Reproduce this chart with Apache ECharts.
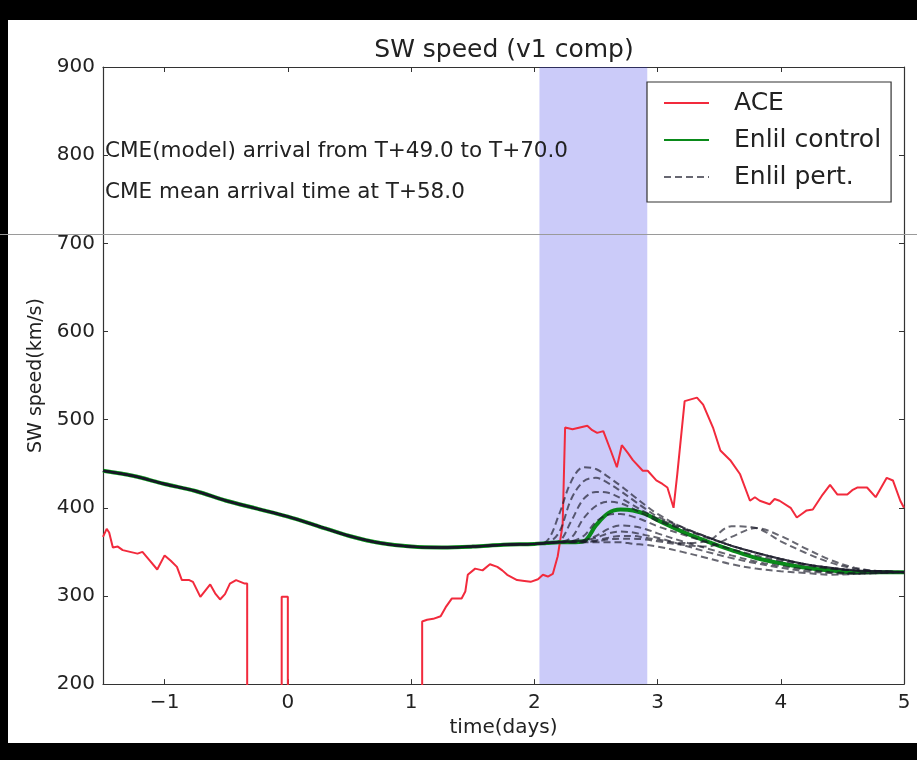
<!DOCTYPE html>
<html>
<head>
<meta charset="utf-8">
<script src="https://cdn.jsdelivr.net/npm/echarts@6/dist/echarts.min.js"></script>
<style>
  html, body { margin: 0; padding: 0; background: #000; width: 917px; height: 760px; overflow: hidden; }
  #chart { position: absolute; left: 8px; top: 20px; width: 909px; height: 723px; background: #fff; }
  #scanline { position: absolute; left: 0; top: 234px; width: 917px; height: 1px; background: #9a9a9a; z-index: 10; }
</style>
</head>
<body>
<div id="chart"></div>
<div id="scanline"></div>
<script>
// ---------------- data ----------------
const titleText = 'SW speed (v1 comp)';
const xName = 'time(days)';
const yName = 'SW speed(km/s)';
const note1 = 'CME(model) arrival from T+49.0 to T+70.0';
const note2 = 'CME mean arrival time at T+58.0';
const legendNames = ['ACE', 'Enlil control', 'Enlil pert.'];

const xTicks = [-1, 0, 1, 2, 3, 4, 5];
const yTicks = [200, 300, 400, 500, 600, 700, 800, 900];

// CME model arrival window (days): T+49h .. T+70h
const arrivalWindow = [49 / 24, 70 / 24];

// ACE observations (0 = data gap / fill value, falls below the axis)
const aceDays = [-1.5,-1.47,-1.45,-1.42,-1.38,-1.34,-1.28,-1.22,-1.18,-1.12,-1.06,-1.0,-0.95,-0.9,-0.86,-0.8,-0.77,-0.71,-0.67,-0.63,-0.59,-0.55,-0.51,-0.47,-0.42,-0.35,-0.33,
  -0.33,-0.05,-0.05,0.0,0.0,1.09,1.09,
  1.13,1.18,1.24,1.28,1.33,1.41,1.44,1.46,1.52,1.58,1.64,1.70,1.74,1.78,1.86,1.92,1.97,2.03,2.07,2.11,2.15,2.19,2.23,2.25,
  2.31,2.37,2.43,2.47,2.51,2.56,2.62,2.67,2.71,2.76,2.80,2.88,2.92,2.99,3.04,3.08,3.13,3.16,3.22,3.27,3.32,3.37,3.45,3.51,
  3.59,3.67,3.75,3.79,3.83,3.91,3.95,3.99,4.08,4.13,4.17,4.21,4.26,4.34,4.40,4.46,4.54,4.58,4.62,4.70,4.77,4.86,4.91,4.97,5.0];
const aceSpeed = [367,376,372,355,356,352,350,348,350,340,330,346,340,333,318,318,316,299,306,313,303,296,302,314,318,314,314,
  0,0,299,299,0,0,271,
  273,274,277,287,297,297,305,324,331,329,336,333,329,324,318,317,316,319,324,322,325,345,381,491,
  489,491,493,488,485,487,465,446,471,462,454,442,442,431,427,423,400,438,521,523,525,517,491,465,
  454,438,408,412,408,404,410,408,400,389,393,397,398,415,426,415,415,420,423,423,412,434,431,408,400];

// Enlil control run
const ctrlPreDays = [-1.5,-1.25,-1,-0.75,-0.5,-0.25,0,0.25,0.5,0.75,1,1.25,1.5,1.75];
const ctrlPreSpeed = [442,436,427,419,408,399,390,379,368,360,356,355,356,358];
const postDays = [2.0,2.1,2.2,2.3,2.4,2.5,2.6,2.7,2.8,2.9,3.0,3.2,3.4,3.6,3.8,4.0,4.2,4.4,4.6,4.8,5.0];
const ctrlPostSpeed = [359,360,361,361,362,380,394,398,397,393,386,373,362,352,343,337,332,329,327,327,327];

// Enlil perturbed members (after 2.0 days; before that they follow the control run)
const pert1 = [359,362,392,430,446,444,435,425,414,403,393,378,367,357,349,342,336,332,329,328,327];
const pert2 = [359,360,372,410,430,434,428,419,409,399,390,378,367,357,349,342,336,332,329,328,327];
const pert3 = [359,360,362,385,410,418,417,411,403,395,388,377,367,357,349,342,336,332,329,328,327];
const pert4 = [359,360,361,366,388,402,407,405,399,392,385,376,366,357,349,342,336,332,329,328,327];
const pert5 = [359,360,361,362,368,384,392,393,390,385,379,370,361,353,346,340,335,331,329,328,327];
const pert6 = [359,360,361,362,363,368,376,380,379,376,371,362,354,346,339,334,330,327,326,326,327];
const pert7 = [359,360,361,361,361,361,361,361,359,358,356,350,343,336,331,328,326,324,325,326,327];
const pert8 = [359,360,361,361,362,363,366,368,368,366,364,360,362,379,377,362,349,338,331,328,327];
const pert9 = [359,360,361,361,361,362,364,365,365,364,362,358,356,367,377,368,354,341,332,328,327];
const pert10 = [359,360,361,362,363,366,371,373,372,369,366,358,350,343,337,332,328,326,325,326,327];
const pertMembers = [pert1, pert2, pert3, pert4, pert5, pert6, pert7, pert8, pert9, pert10];

// ---------------- chart ----------------
const FONT = '"DejaVu Sans", "Liberation Sans", sans-serif';
const zip = (xs, ys) => xs.map((x, i) => [x, ys[i]]);
const aceData = zip(aceDays, aceSpeed);
const ctrlData = zip(ctrlPreDays.concat(postDays), ctrlPreSpeed.concat(ctrlPostSpeed));
const minusFmt = v => String(v).replace('-', '\u2212');

const pertColor = 'rgba(25,25,40,0.66)';
const pertSeries = pertMembers.map((m, i) => ({
  name: legendNames[2],
  type: 'line',
  z: 4,
  data: zip(ctrlPreDays.concat(postDays), ctrlPreSpeed.concat(m)),
  smooth: 0.35,
  showSymbol: false,
  symbol: 'none',
  lineStyle: { color: pertColor, width: 2, type: [7, 4], dashOffset: i * 1.1 },
  itemStyle: { color: pertColor },
  emphasis: { disabled: true }
}));

const axisCommon = {
  type: 'value',
  axisLine: { show: true, onZero: false, lineStyle: { color: '#333', width: 1.2 } },
  axisTick: { show: true, inside: true, length: 5, lineStyle: { color: '#333', width: 1 } },
  splitLine: { show: false }
};

const option = {
  backgroundColor: '#fff',
  animation: false,
  title: {
    text: titleText,
    left: 496,
    top: 18,
    padding: 0,
    textAlign: 'center',
    textStyle: { fontFamily: FONT, fontSize: 25, fontWeight: 'normal', color: '#222' }
  },
  grid: { left: 95, right: 13, top: 47, bottom: 55, containLabel: false },
  legend: {
    data: legendNames,
    orient: 'vertical',
    left: 639,
    top: 62,
    padding: [8, 10, 12, 16],
    itemGap: 11,
    itemWidth: 45,
    itemHeight: 14,
    backgroundColor: '#fff',
    borderColor: '#333',
    borderWidth: 1.2,
    borderRadius: 0,
    selectedMode: false,
    itemStyle: { opacity: 0 },
    textStyle: { fontFamily: FONT, fontSize: 25, color: '#222', lineHeight: 26, padding: [0, 0, 0, 20] }
  },
  xAxis: [
    Object.assign({}, axisCommon, {
      min: -1.5, max: 5, position: 'bottom',
      name: xName, nameLocation: 'middle', nameGap: 32,
      nameTextStyle: { fontFamily: FONT, fontSize: 20, color: '#222' },
      axisTick: Object.assign({}, axisCommon.axisTick, { customValues: xTicks }),
      axisLabel: { customValues: xTicks, formatter: minusFmt, fontFamily: FONT, fontSize: 20, color: '#222', margin: 9 }
    }),
    Object.assign({}, axisCommon, {
      min: -1.5, max: 5, position: 'top',
      axisTick: Object.assign({}, axisCommon.axisTick, { customValues: xTicks }),
      axisLabel: { show: false }
    })
  ],
  yAxis: [
    Object.assign({}, axisCommon, {
      min: 200, max: 900, interval: 100, position: 'left',
      name: yName, nameLocation: 'middle', nameGap: 56, nameRotate: 90,
      nameTextStyle: { fontFamily: FONT, fontSize: 19, color: '#222' },
      axisTick: Object.assign({}, axisCommon.axisTick, { customValues: yTicks }),
      axisLabel: { customValues: yTicks, fontFamily: FONT, fontSize: 20, color: '#222', margin: 8 }
    }),
    Object.assign({}, axisCommon, {
      min: 200, max: 900, interval: 100, position: 'right',
      axisTick: Object.assign({}, axisCommon.axisTick, { customValues: yTicks }),
      axisLabel: { show: false }
    })
  ],
  graphic: [
    { type: 'text', x: 97, y: 131, z: 100,
      style: { text: note1, font: '21.5px ' + FONT, fill: '#222', verticalAlign: 'middle' } },
    { type: 'text', x: 97, y: 172, z: 100,
      style: { text: note2, font: '21.5px ' + FONT, fill: '#222', verticalAlign: 'middle' } }
  ],
  series: [
    {
      name: legendNames[0],
      type: 'line',
      z: 2,
      data: aceData,
      showSymbol: false,
      symbol: 'none',
      clip: true,
      lineStyle: { color: '#f22a3c', width: 2 },
      itemStyle: { color: '#f22a3c' },
      emphasis: { disabled: true }
    },
    {
      name: legendNames[1],
      type: 'line',
      z: 3,
      data: ctrlData,
      smooth: 0.35,
      showSymbol: false,
      symbol: 'none',
      lineStyle: { color: '#0a8a1a', width: 4 },
      itemStyle: { color: '#0a8a1a' },
      emphasis: { disabled: true }
    }
  ].concat(pertSeries).concat([
    {
      name: 'band',
      type: 'line',
      z: 6,
      data: [],
      markArea: {
        silent: true,
        itemStyle: { color: 'rgba(30,30,230,0.23)' },
        data: [[{ xAxis: arrivalWindow[0] }, { xAxis: arrivalWindow[1] }]]
      }
    }
  ])
};

const chart = echarts.init(document.getElementById('chart'), null, { renderer: 'canvas' });
chart.setOption(option);
</script>
</body>
</html>
